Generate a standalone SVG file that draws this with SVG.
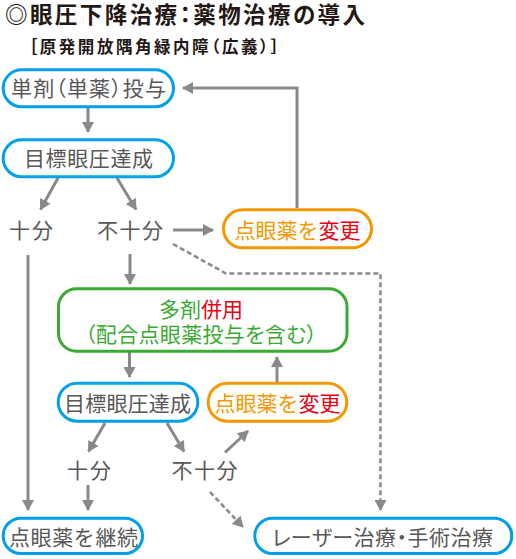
<svg xmlns="http://www.w3.org/2000/svg" width="516" height="559" viewBox="0 0 516 559">
<defs>
<style>
text{font-family:"Noto Sans CJK JP","Noto Sans CJK SC",sans-serif;}
.title{font-size:22.5px;font-weight:700;fill:#231815;}
.sub{font-size:16.5px;font-weight:700;fill:#231815;}
.t{font-size:21px;fill:#595757;text-anchor:middle;}
.p{font-feature-settings:"palt";}
.o{fill:#F39800;}
.r{fill:#E60012;}
.g{fill:#3BAA35;}
.blue{fill:#fff;stroke:#00A0E9;stroke-width:3;}
.orange{fill:#fff;stroke:#F39800;stroke-width:3;}
.green{fill:#fff;stroke:#3BAA35;stroke-width:3;}
.c{fill:none;stroke:#898989;stroke-width:3;}
.d{fill:none;stroke:#898989;stroke-width:2.5;stroke-dasharray:5 3;}
</style>
<marker id="ah" viewBox="0 0 11 12" refX="10" refY="6" markerWidth="11" markerHeight="12" markerUnits="userSpaceOnUse" orient="auto">
<path d="M0,0 L11,6 L0,12 z" fill="#898989"/>
</marker>
</defs>
<g id="title">
<text class="title p" x="5" y="23" textLength="360" lengthAdjust="spacing">◎眼圧下降治療：薬物治療の導入</text>
<text class="sub p" x="29" y="52.5" textLength="250" lengthAdjust="spacing">［原発開放隅角緑内障（広義）］</text>
</g>
<g id="connectors">
<line class="c" x1="88" y1="108" x2="88" y2="132" marker-end="url(#ah)"/>
<line class="c" x1="58" y1="178" x2="40.5" y2="209.5" marker-end="url(#ah)"/>
<line class="c" x1="117" y1="178" x2="136" y2="209.5" marker-end="url(#ah)"/>
<line class="c" x1="173" y1="230" x2="213" y2="230" marker-end="url(#ah)"/>
<polyline class="c" points="297,208 297,88 183,88" marker-end="url(#ah)"/>
<polyline class="d" points="173,244 226,273.5 380.5,273.5 380.5,510" marker-end="url(#ah)"/>
<line class="c" x1="130" y1="254" x2="130" y2="284" marker-end="url(#ah)"/>
<line class="c" x1="28" y1="255" x2="28" y2="510" marker-end="url(#ah)"/>
<line class="c" x1="129.5" y1="352" x2="129.5" y2="377" marker-end="url(#ah)"/>
<line class="c" x1="277" y1="382" x2="277" y2="357" marker-end="url(#ah)"/>
<line class="c" x1="105" y1="423" x2="88.5" y2="451.5" marker-end="url(#ah)"/>
<line class="c" x1="167" y1="423" x2="184" y2="451.5" marker-end="url(#ah)"/>
<line class="c" x1="225" y1="452.5" x2="248" y2="431" marker-end="url(#ah)"/>
<line class="c" x1="88" y1="485" x2="88" y2="510" marker-end="url(#ah)"/>
<line class="d" x1="210" y1="492" x2="243" y2="527" marker-end="url(#ah)"/>
</g>
<g id="n-single">
<rect class="blue" x="3.2" y="69.8" width="170.3" height="37" rx="18.5"/>
<text class="t p" x="88.5" y="96" textLength="155" lengthAdjust="spacing">単剤（単薬）投与</text>
</g>
<g id="n-target1">
<rect class="blue" x="3.2" y="139.8" width="170.3" height="37" rx="18.5"/>
<text class="t" x="88.5" y="166" textLength="129" lengthAdjust="spacing">目標眼圧達成</text>
</g>
<g id="l-enough1">
<text class="t" x="31" y="238" textLength="44" lengthAdjust="spacing">十分</text>
</g>
<g id="l-notenough1">
<text class="t" x="130" y="238" textLength="66" lengthAdjust="spacing">不十分</text>
</g>
<g id="n-change1">
<rect class="orange" x="223.5" y="209.8" width="148" height="38" rx="19"/>
<text class="t" x="297.5" y="238"><tspan class="o">点眼薬を</tspan><tspan class="r">変更</tspan></text>
</g>
<g id="n-combo">
<rect class="green" x="58.5" y="288.8" width="288.5" height="62.5" rx="18"/>
<text class="t" x="201" y="316.5"><tspan class="g">多剤</tspan><tspan class="r">併用</tspan></text>
<text class="t g p" x="201" y="341.5" textLength="232" lengthAdjust="spacing">（配合点眼薬投与を含む）</text>
</g>
<g id="n-target2">
<rect class="blue" x="58.2" y="383.2" width="139.6" height="38" rx="19"/>
<text class="t" x="127.5" y="411" textLength="127" lengthAdjust="spacing">目標眼圧達成</text>
</g>
<g id="n-change2">
<rect class="orange" x="208.2" y="383.2" width="138.6" height="38" rx="19"/>
<text class="t" x="277.5" y="411"><tspan class="o">点眼薬を</tspan><tspan class="r">変更</tspan></text>
</g>
<g id="l-enough2">
<text class="t" x="89" y="478" textLength="44" lengthAdjust="spacing">十分</text>
</g>
<g id="l-notenough2">
<text class="t" x="204.5" y="478" textLength="66" lengthAdjust="spacing">不十分</text>
</g>
<g id="n-continue">
<rect class="blue" x="3.2" y="518.2" width="139.3" height="35.3" rx="17.6"/>
<text class="t" x="73.5" y="545" textLength="129" lengthAdjust="spacing">点眼薬を継続</text>
</g>
<g id="n-laser">
<rect class="blue" x="254.8" y="518.2" width="257" height="35.3" rx="17.6"/>
<text class="t p" x="382.5" y="545" textLength="221" lengthAdjust="spacing">レーザー治療・手術治療</text>
</g>
</svg>
